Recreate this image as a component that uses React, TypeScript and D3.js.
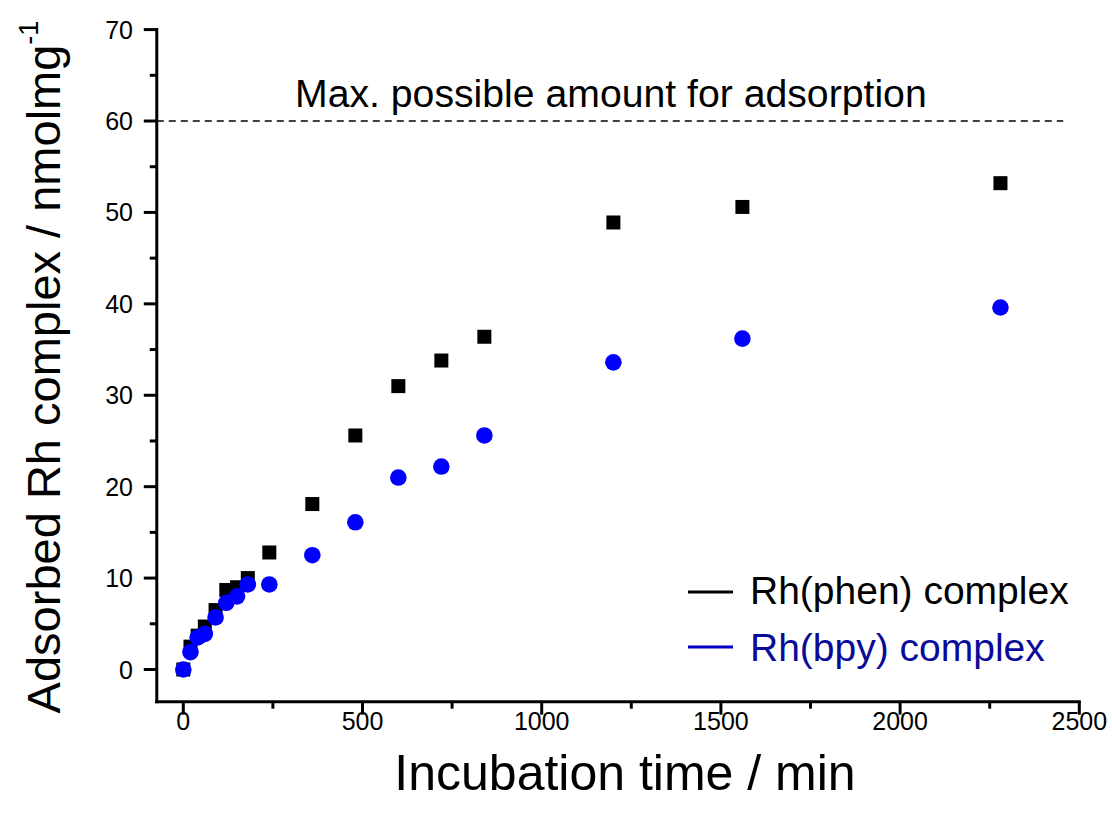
import React from "react";
import * as d3 from "d3";

const phenTime = [0, 20, 40, 60, 90, 120, 150, 180, 240, 360, 480, 600, 720, 840, 1200, 1560, 2280];
const phenValue = [0, 2.5, 3.7, 4.7, 6.5, 8.7, 9.0, 10.0, 12.8, 18.1, 25.6, 31.0, 33.8, 36.4, 48.9, 50.6, 53.2];
const bpyTime = [0, 20, 40, 60, 90, 120, 150, 180, 240, 360, 480, 600, 720, 840, 1200, 1560, 2280];
const bpyValue = [0, 1.9, 3.5, 3.9, 5.7, 7.3, 8.0, 9.3, 9.3, 12.5, 16.1, 21.0, 22.2, 25.6, 33.6, 36.2, 39.6];
const xMajorTicks = [0, 500, 1000, 1500, 2000, 2500];
const xMinorTicks = [250, 750, 1250, 1750, 2250];
const yMajorTicks = [0, 10, 20, 30, 40, 50, 60, 70];
const yMinorTicks = [5, 15, 25, 35, 45, 55, 65];
const maxAmount = 60;
const legendLabels = ["Rh(phen) complex", "Rh(bpy) complex"];

const FONT = "'Liberation Sans', Arial, Helvetica, sans-serif";

export default function App() {
  const x = d3.scaleLinear().domain([0, 2500]).range([183.3, 1079.3]);
  const y = d3.scaleLinear().domain([0, 70]).range([669.5, 29.6]);
  const axisX = x(-74);
  const axisY = y(-3.52);
  const majorLen = 13;
  const minorLen = 7;
  const sq = 14;
  const r = 8.3;

  return (
    <svg
      width={1112}
      height={814}
      style={{ position: "absolute", left: 0, top: 0, display: "block", background: "#fff" }}
      fontFamily={FONT}
    >
      <rect x={0} y={0} width={1112} height={814} fill="#fff" />
      <line
        x1={axisX}
        x2={x(2455)}
        y1={y(maxAmount)}
        y2={y(maxAmount)}
        stroke="#000"
        strokeWidth={1.6}
        strokeDasharray="7,5"
      />
      <text x={295} y={107} fontSize={39.2} fill="#000">
        Max. possible amount for adsorption
      </text>

      <line x1={axisX} x2={axisX} y1={y(70)} y2={axisY} stroke="#000" strokeWidth={3} strokeLinecap="square" />
      <line x1={axisX} x2={x(2500)} y1={axisY} y2={axisY} stroke="#000" strokeWidth={3} strokeLinecap="square" />
      {yMajorTicks.map((t) => (
        <g key={"ym" + t}>
          <line x1={axisX - majorLen} x2={axisX} y1={y(t)} y2={y(t)} stroke="#000" strokeWidth={3} />
          <text x={133} y={y(t)} dy="0.36em" textAnchor="end" fontSize={25} fill="#000">
            {t}
          </text>
        </g>
      ))}
      {yMinorTicks.map((t) => (
        <line key={"yn" + t} x1={axisX - minorLen} x2={axisX} y1={y(t)} y2={y(t)} stroke="#000" strokeWidth={3} />
      ))}
      {xMajorTicks.map((t) => (
        <g key={"xm" + t}>
          <line x1={x(t)} x2={x(t)} y1={axisY} y2={axisY + majorLen} stroke="#000" strokeWidth={3} />
          <text x={x(t)} y={730} textAnchor="middle" fontSize={25} fill="#000">
            {t}
          </text>
        </g>
      ))}
      {xMinorTicks.map((t) => (
        <line key={"xn" + t} x1={x(t)} x2={x(t)} y1={axisY} y2={axisY + minorLen} stroke="#000" strokeWidth={3} />
      ))}

      <text x={625} y={790} textAnchor="middle" fontSize={50} fill="#000">
        Incubation time / min
      </text>
      <text transform="translate(60,367) rotate(-90)" textAnchor="middle" fontSize={47} fill="#000">
        Adsorbed Rh complex / nmolmg
        <tspan fontSize={27} dy={-22}>-1</tspan>
      </text>

      {phenTime.map((t, i) => (
        <rect key={"p" + i} x={x(t) - sq / 2} y={y(phenValue[i]) - sq / 2} width={sq} height={sq} fill="#000" />
      ))}
      {bpyTime.map((t, i) => (
        <circle key={"b" + i} cx={x(t)} cy={y(bpyValue[i])} r={r} fill="#0000ff" />
      ))}

      <line x1={688} x2={733} y1={592} y2={592} stroke="#000" strokeWidth={3} />
      <text x={750} y={604} fontSize={39} fill="#000">
        {legendLabels[0]}
      </text>
      <line x1={688} x2={733} y1={647} y2={647} stroke="#0000c8" strokeWidth={3} />
      <text x={750} y={661} fontSize={39} fill="#0a0a99">
        {legendLabels[1]}
      </text>
    </svg>
  );
}
